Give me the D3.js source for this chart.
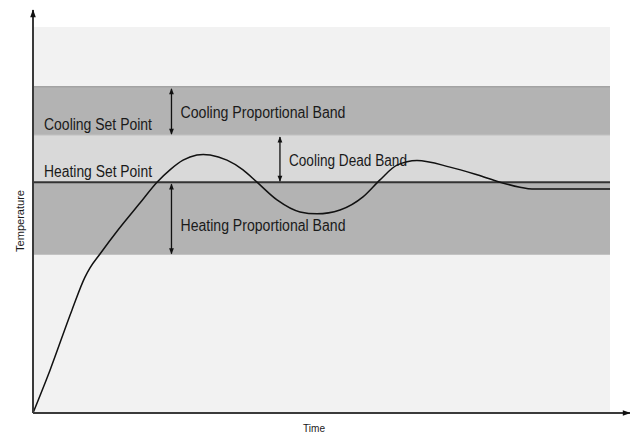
<!DOCTYPE html>
<html>
<head>
<meta charset="utf-8">
<script src="https://cdn.jsdelivr.net/npm/d3@7"></script>
<style>
  html, body { margin: 0; padding: 0; background: #fff; }
  svg text { font-family: "Liberation Sans Narrow", "Arial Narrow", "Liberation Sans", sans-serif; fill: #1a1a1a; }
</style>
</head>
<body>
<svg id="chart" width="630" height="433"></svg>
<script>
// ---- Data (time 0..100, temperature 0..100, schematic units) ----
const timeValues = [0, 2.95, 6.76, 9.01, 9.88, 11.61, 14.73, 18.54, 21.49, 23.74, 26.0, 28.4, 29.5, 30.7, 33.62, 36.40, 38.82, 42.29, 46.27, 49.22, 53.21, 57.19, 60.14, 63.08, 66.55, 72.27, 76.95, 80.94, 84.40, 86.48, 100];
const tempValues = [0, 11.1, 26.7, 35.2, 37.6, 41.2, 47.4, 54.4, 59.8, 63.0, 65.5, 66.85, 67.0, 66.85, 65.5, 63.0, 59.8, 55.2, 52.1, 51.6, 52.6, 56.0, 60.4, 64.2, 65.4, 63.7, 61.7, 59.8, 58.5, 58.0, 58.0];

const bandNames = ["Heating Proportional Band", "Cooling Dead Band", "Cooling Proportional Band"];
const bandLow  = [41.0, 59.8, 72.0];
const bandHigh = [59.8, 72.0, 84.5];
const bandArrowTime = [24.0, 42.8, 24.0];

const heatingSetPoint = 59.8;
const coolingSetPoint = 72.0;
const setPointLabels = ["Heating Set Point", "Cooling Set Point"];
const setPointValues = [heatingSetPoint, coolingSetPoint];

const xAxisLabel = "Time";
const yAxisLabel = "Temperature";

// ---- Layout ----
const svg = d3.select("#chart");
const x = d3.scaleLinear().domain([0, 100]).range([33, 610]);
const y = d3.scaleLinear().domain([0, 100]).range([413, 27]);

const defs = svg.append("defs");
defs.append("marker")
  .attr("id", "arr").attr("viewBox", "0 0 10 10")
  .attr("refX", 9).attr("refY", 5)
  .attr("markerWidth", 7).attr("markerHeight", 6)
  .attr("markerUnits", "userSpaceOnUse")
  .attr("orient", "auto-start-reverse")
  .append("path").attr("d", "M0,1 L10,5 L0,9 Z").attr("fill", "#111");
defs.append("marker")
  .attr("id", "axarr").attr("viewBox", "0 0 10 10")
  .attr("refX", 9).attr("refY", 5)
  .attr("markerWidth", 14).attr("markerHeight", 8)
  .attr("markerUnits", "userSpaceOnUse")
  .attr("orient", "auto")
  .append("path").attr("d", "M0,1.5 L10,5 L0,8.5 Z").attr("fill", "#111");

// background
svg.append("rect")
  .attr("x", x(0)).attr("y", y(100))
  .attr("width", x(100) - x(0)).attr("height", y(0) - y(100))
  .attr("fill", "#f2f2f2");

// bands
const bandFill = ["#b3b3b3", "#d9d9d9", "#b3b3b3"];
svg.selectAll("rect.band").data(bandNames).join("rect")
  .attr("class", "band")
  .attr("x", x(0))
  .attr("y", (d, i) => y(bandHigh[i]))
  .attr("width", x(100) - x(0))
  .attr("height", (d, i) => y(bandLow[i]) - y(bandHigh[i]))
  .attr("fill", (d, i) => bandFill[i]);

// thin band edges
svg.append("line")
  .attr("x1", x(0)).attr("x2", x(100))
  .attr("y1", y(bandHigh[2])).attr("y2", y(bandHigh[2]))
  .attr("stroke", "#a3a3a3").attr("stroke-width", 1.5);
svg.append("line")
  .attr("x1", x(0)).attr("x2", x(100))
  .attr("y1", y(coolingSetPoint)).attr("y2", y(coolingSetPoint))
  .attr("stroke", "#c4c4c4").attr("stroke-width", 1);

// heating set point line
svg.append("line")
  .attr("x1", x(0)).attr("x2", x(100))
  .attr("y1", y(heatingSetPoint)).attr("y2", y(heatingSetPoint))
  .attr("stroke", "#333").attr("stroke-width", 2);

// band arrows
svg.selectAll("line.barr").data(bandNames).join("line")
  .attr("class", "barr")
  .attr("x1", (d, i) => x(bandArrowTime[i])).attr("x2", (d, i) => x(bandArrowTime[i]))
  .attr("y1", (d, i) => y(bandLow[i]) - 1).attr("y2", (d, i) => y(bandHigh[i]) + 2)
  .attr("stroke", "#111").attr("stroke-width", 1.3)
  .attr("marker-start", "url(#arr)").attr("marker-end", "url(#arr)");

// band labels
const bandLabelY = [231, 166, 118];
const bandLabelW = [165, 118, 165];
svg.selectAll("text.blab").data(bandNames).join("text")
  .attr("class", "blab")
  .attr("x", (d, i) => x(bandArrowTime[i]) + 9)
  .attr("y", (d, i) => bandLabelY[i])
  .attr("font-size", 16)
  .attr("textLength", (d, i) => bandLabelW[i])
  .attr("lengthAdjust", "spacingAndGlyphs")
  .text(d => d);

// set point labels
svg.selectAll("text.splab").data(setPointLabels).join("text")
  .attr("class", "splab")
  .attr("x", x(0) + 11)
  .attr("y", (d, i) => y(setPointValues[i]) - 5)
  .attr("font-size", 16)
  .attr("textLength", 108)
  .attr("lengthAdjust", "spacingAndGlyphs")
  .text(d => d);

// response curve
const line = d3.line()
  .x((d, i) => x(timeValues[i]))
  .y((d, i) => y(tempValues[i]))
  .curve(d3.curveMonotoneX);
svg.append("path")
  .datum(timeValues)
  .attr("d", line)
  .attr("fill", "none")
  .attr("stroke", "#111")
  .attr("stroke-width", 1.5);

// axes
svg.append("line")
  .attr("x1", x(0)).attr("x2", x(0))
  .attr("y1", y(0)).attr("y2", y(100) - 17)
  .attr("stroke", "#3a3a3a").attr("stroke-width", 2)
  .attr("marker-end", "url(#axarr)");
svg.append("line")
  .attr("x1", x(0)).attr("x2", x(100) + 20)
  .attr("y1", y(0)).attr("y2", y(0))
  .attr("stroke", "#3a3a3a").attr("stroke-width", 2)
  .attr("marker-end", "url(#axarr)");

// axis labels
svg.append("text")
  .attr("x", 314).attr("y", 432)
  .attr("text-anchor", "middle")
  .attr("font-size", 11)
  .attr("textLength", 22)
  .attr("lengthAdjust", "spacingAndGlyphs")
  .text(xAxisLabel);
svg.append("text")
  .attr("transform", "translate(24,221) rotate(-90)")
  .attr("text-anchor", "middle")
  .attr("font-size", 11)
  .attr("textLength", 62)
  .attr("lengthAdjust", "spacingAndGlyphs")
  .text(yAxisLabel);
</script>
</body>
</html>
